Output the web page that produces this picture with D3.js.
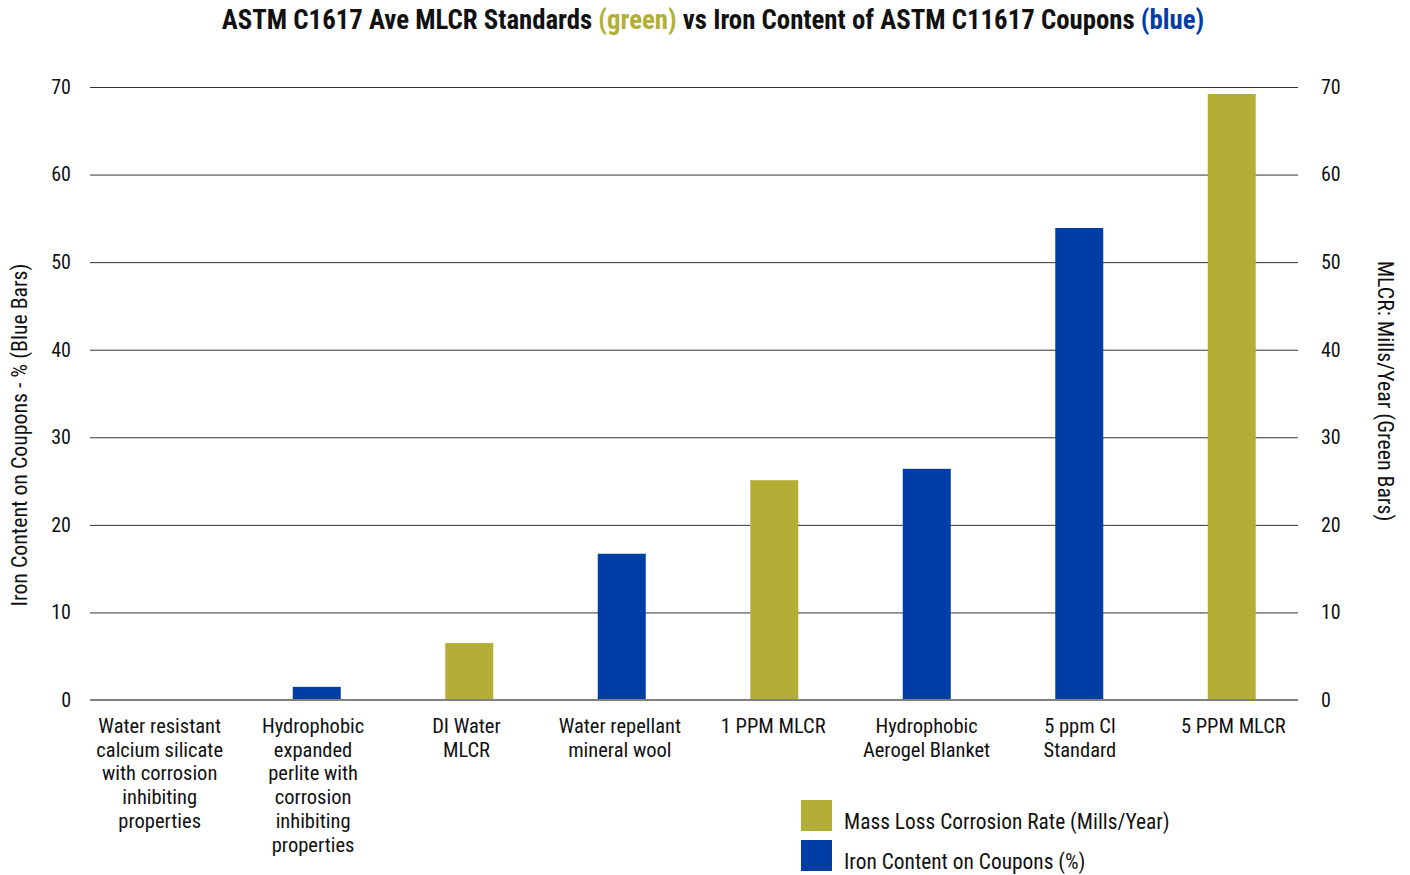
<html>
<head>
<script src="https://cdn.jsdelivr.net/npm/d3@7/dist/d3.min.js"></script>
<style>
  body { margin: 0; background: #fff; }
  svg text { font-family: "Liberation Sans Narrow", "Roboto Condensed", "DejaVu Sans Condensed", sans-serif; fill: #111; }
</style>
</head>
<body>
<svg id="CANVAS"></svg>
<script>
    var W = 1410;
    var H = 875;

    // category labels, one entry per line
    var categories = [
        ["Water resistant", "calcium silicate", "with corrosion", "inhibiting", "properties"],
        ["Hydrophobic", "expanded", "perlite with", "corrosion", "inhibiting", "properties"],
        ["DI Water", "MLCR"],
        ["Water repellant", "mineral wool"],
        ["1 PPM MLCR"],
        ["Hydrophobic", "Aerogel Blanket"],
        ["5 ppm Cl", "Standard"],
        ["5 PPM MLCR"]
    ];
    // blue bars: iron content on coupons (%)
    var ironContent = [0, 1.5, null, 16.7, null, 26.4, 53.9, null];
    // green bars: mass loss corrosion rate (mills/year)
    var mlcr = [null, null, 6.5, null, 25.1, null, null, 69.2];
    var yTicks = [0, 10, 20, 30, 40, 50, 60, 70];
    var legendLabels = ["Mass Loss Corrosion Rate (Mills/Year)", "Iron Content on Coupons (%)"];

    var GREEN = "#b3af36";
    var BLUE = "#003da5";

    var svg = d3.select("#CANVAS").attr("width", W).attr("height", H);

    var x = d3.scaleBand()
        .domain(d3.range(categories.length))
        .range([88, 1308]);
    // labels sit on a slightly wider band than the bars
    var xLab = d3.scaleBand()
        .domain(d3.range(categories.length))
        .range([83, 1310]);

    var yL = d3.scaleLinear().domain([0, 70]).range([700, 87]);
    var yR = d3.scaleLinear().domain([0, 70]).range([700, 87]);

    // gridlines
    svg.append("g").selectAll("line.grid")
        .data(yTicks.filter(function (d) { return d > 0; }))
        .enter().append("line")
        .attr("class", "grid")
        .attr("x1", 90).attr("x2", 1298)
        .attr("y1", function (d) { return yL(d) + 0.5; })
        .attr("y2", function (d) { return yL(d) + 0.5; })
        .attr("stroke", "#333").attr("stroke-width", 1);

    // left axis
    var gl = svg.append("g")
        .attr("transform", "translate(71,0)")
        .call(d3.axisLeft(yL).tickValues(yTicks).tickSize(0).tickPadding(0));
    gl.select(".domain").remove();
    gl.selectAll("text").attr("font-size", 20).attr("fill", "#111");

    // right axis
    var gr = svg.append("g")
        .attr("transform", "translate(1321,0)")
        .call(d3.axisRight(yR).tickValues(yTicks).tickSize(0).tickPadding(0));
    gr.select(".domain").remove();
    gr.selectAll("text").attr("font-size", 20).attr("fill", "#111");

    var barW = 48;

    // blue bars
    svg.append("g").selectAll("rect.iron")
        .data(ironContent.map(function (v, i) { return { i: i, v: v }; })
            .filter(function (d) { return d.v; }))
        .enter().append("rect")
        .attr("class", "iron")
        .attr("x", function (d) { return x(d.i) + x.bandwidth() / 2 - barW / 2; })
        .attr("width", barW)
        .attr("y", function (d) { return yL(d.v); })
        .attr("height", function (d) { return yL(0) - yL(d.v); })
        .attr("fill", BLUE);

    // green bars
    svg.append("g").selectAll("rect.mlcr")
        .data(mlcr.map(function (v, i) { return { i: i, v: v }; })
            .filter(function (d) { return d.v; }))
        .enter().append("rect")
        .attr("class", "mlcr")
        .attr("x", function (d) { return x(d.i) + x.bandwidth() / 2 - barW / 2; })
        .attr("width", barW)
        .attr("y", function (d) { return yR(d.v); })
        .attr("height", function (d) { return yR(0) - yR(d.v); })
        .attr("fill", GREEN);

    // baseline
    svg.append("line")
        .attr("x1", 90).attr("x2", 1298)
        .attr("y1", 700).attr("y2", 700)
        .attr("stroke", "#808080").attr("stroke-width", 2);

    // category labels
    var cl = svg.append("g").selectAll("text.cat")
        .data(categories)
        .enter().append("text")
        .attr("class", "cat")
        .attr("text-anchor", "middle")
        .attr("font-size", 20.5)
        .attr("x", function (d, i) { return xLab(i) + xLab.bandwidth() / 2; })
        .attr("y", 733);
    cl.selectAll("tspan")
        .data(function (d) { return d; })
        .enter().append("tspan")
        .attr("x", function () { return d3.select(this.parentNode).attr("x"); })
        .attr("dy", function (d, i) { return i ? 23.7 : 0; })
        .text(function (d) { return d; });

    // axis titles
    svg.append("text")
        .attr("transform", "translate(27,435) rotate(-90)")
        .attr("text-anchor", "middle")
        .attr("font-size", 21.8)
        .text("Iron Content on Coupons - % (Blue Bars)");

    svg.append("text")
        .attr("transform", "translate(1378,391) rotate(90)")
        .attr("text-anchor", "middle")
        .attr("font-size", 21.8)
        .text("MLCR: Mills/Year (Green Bars)");

    // title
    var title = svg.append("text")
        .attr("x", 713).attr("y", 29)
        .attr("text-anchor", "middle")
        .attr("font-size", 26.8)
        .attr("font-weight", "bold");
    title.append("tspan").text("ASTM C1617 Ave MLCR Standards ");
    title.append("tspan").attr("fill", GREEN).text("(green)");
    title.append("tspan").text(" vs Iron Content of ASTM C11617 Coupons ");
    title.append("tspan").attr("fill", BLUE).text("(blue)");

    // legend
    var lg = svg.append("g").selectAll("g.leg")
        .data(legendLabels)
        .enter().append("g")
        .attr("class", "leg")
        .attr("transform", function (d, i) { return "translate(801," + (800 + i * 40) + ")"; });
    lg.append("rect")
        .attr("width", 31).attr("height", 31)
        .attr("fill", function (d, i) { return i ? BLUE : GREEN; });
    lg.append("text")
        .attr("x", 43).attr("y", 29)
        .attr("font-size", 21.4)
        .text(function (d) { return d; });
</script>
</body>
</html>
